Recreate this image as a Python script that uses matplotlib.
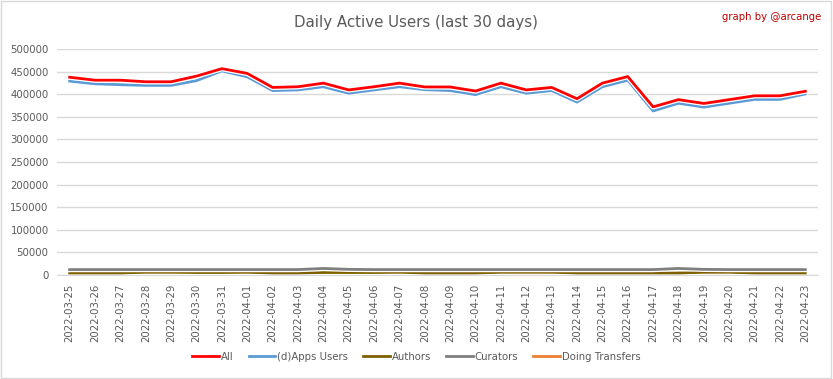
import matplotlib.pyplot as plt
import matplotlib.patheffects as pe
import numpy as np

dates = ["2022-03-25", "2022-03-26", "2022-03-27", "2022-03-28", "2022-03-29",
         "2022-03-30", "2022-03-31", "2022-04-01", "2022-04-02", "2022-04-03",
         "2022-04-04", "2022-04-05", "2022-04-06", "2022-04-07", "2022-04-08",
         "2022-04-09", "2022-04-10", "2022-04-11", "2022-04-12", "2022-04-13",
         "2022-04-14", "2022-04-15", "2022-04-16", "2022-04-17", "2022-04-18",
         "2022-04-19", "2022-04-20", "2022-04-21", "2022-04-22", "2022-04-23"]

all_users = [437500, 431000, 431000, 427500, 427500, 440000, 456500, 446000, 415000, 416500,
             424500, 409500, 416500, 424500, 416000, 416000, 407000, 424500, 409500, 415000,
             390000, 424500, 439000, 372000, 388000, 379500, 388000, 396500, 396500, 406500]
apps_users = [429000, 423000, 421000, 419500, 419500, 430000, 451500, 438500, 408000, 409500,
              416500, 402000, 409500, 416500, 410000, 408000, 399000, 416500, 402000, 408000,
              382500, 416500, 431000, 363000, 380000, 371500, 380000, 388500, 388500, 400500]
authors = [4500, 4500, 4500, 6000, 6000, 5500, 5500, 6000, 4500, 4500,
           5500, 5500, 5500, 6000, 4500, 4500, 4500, 6000, 6000, 6000,
           4500, 4500, 4500, 4500, 4500, 6000, 6000, 4500, 4500, 4500]
curators = [12000, 12000, 12000, 12000, 12000, 12000, 12000, 12000, 12000, 12000,
            14500, 12500, 12000, 12000, 12000, 12000, 12000, 12000, 12000, 12000,
            12000, 12000, 12000, 12000, 14500, 12500, 12000, 12000, 12000, 12000]
transfers = [2500, 2500, 2500, 3000, 2500, 2500, 3000, 3000, 2500, 2500,
             2500, 2500, 2500, 2500, 2500, 2500, 2500, 2500, 2500, 2500,
             2500, 2500, 2500, 2500, 2500, 2500, 2500, 2500, 2500, 2500]

series = [("All", all_users, "#FF0000"),
          ("(d)Apps Users", apps_users, "#5B9BD5"),
          ("Authors", authors, "#7F6000"),
          ("Curators", curators, "#7F7F7F"),
          ("Doing Transfers", transfers, "#ED7D31")]

txt = "#595959"
small = 7.3
fig = plt.figure(figsize=(8.33, 3.79), dpi=100)
ax = fig.add_axes([0.0684, 0.2744, 0.9136, 0.5963])

x = np.arange(len(dates))
lines = {}
for k in [4, 2, 3, 1, 0]:
    name, vals, col = series[k]
    ln, = ax.plot(x, vals, color=col, lw=2.0, label=name, zorder=3,
                  path_effects=[pe.Stroke(linewidth=3.8, foreground="white"), pe.Normal()])
    lines[k] = ln

ax.set_xlim(-0.5, len(dates) - 0.5)
ax.set_ylim(0, 500000)
ax.set_yticks(np.arange(0, 500001, 50000))
ax.set_yticklabels([str(v) for v in range(0, 500001, 50000)], fontsize=small, color=txt)
ax.set_xticks(x)
ax.set_xticklabels(dates, rotation=90, fontsize=small, color=txt)
ax.tick_params(length=0, pad=6)
ax.grid(axis="y", color="#D9D9D9", lw=1)
ax.set_axisbelow(True)
for s in ["top", "right", "left"]:
    ax.spines[s].set_visible(False)
ax.spines["bottom"].set_color("#D9D9D9")

fig.text(0.5, 0.94, "Daily Active Users (last 30 days)", ha="center", va="center",
         fontsize=10.8, color=txt)
fig.text(0.986, 0.955, "graph by @arcange", ha="right", va="center",
         fontsize=small, color="#C00000")

handles = [lines[k] for k in range(5)]
fig.legend(handles, [series[k][0] for k in range(5)], loc="center", ncol=5,
           bbox_to_anchor=(0.5, 0.058), frameon=False, fontsize=small, handlelength=2.6,
           labelcolor=txt, columnspacing=1.5, handletextpad=0.2)

fig.patches.append(plt.Rectangle((0.001, 0.002), 0.997, 0.995, transform=fig.transFigure,
                                 fill=False, edgecolor="#D9D9D9", lw=1))

fig.savefig("out.png", dpi=100)
